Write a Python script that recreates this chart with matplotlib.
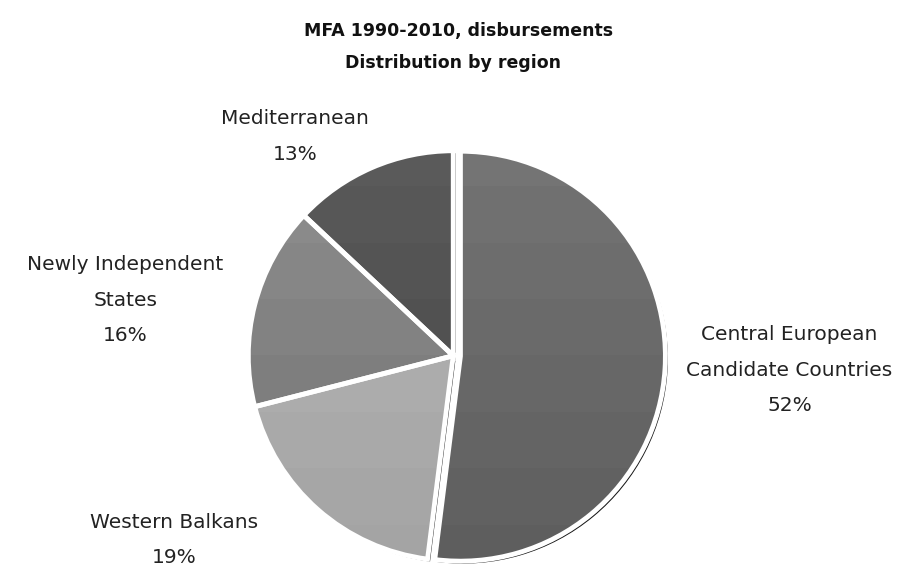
import numpy as np
import matplotlib.pyplot as plt
from matplotlib.patches import Wedge
from matplotlib.colors import to_rgb

regions = ['Central European\nCandidate Countries', 'Western Balkans',
           'Newly Independent\nStates', 'Mediterranean']
shares = [52, 19, 16, 13]
# top / bottom shade of each slice (banded vertical gradient)
shade_top = ['#747474', '#b8b8b8', '#8e8e8e', '#5a5a5a']
shade_bot = ['#5e5e5e', '#a4a4a4', '#727272', '#454545']
explode = [0.035, 0.0, 0.0, 0.0]
label_xy = [(1.64, -0.07), (-1.36, -0.9), (-1.6, 0.27), (-0.77, 1.07)]

fig = plt.figure(figsize=(9.12, 5.71), dpi=100)
ax = fig.add_axes([0.261, 0.0, 0.472, 0.754])
lim = 1.05

total = float(sum(shares))
start = 90.0
for i, (name, v) in enumerate(zip(regions, shares)):
    sweep = 360.0 * v / total
    t1, t2 = start - sweep, start
    mid = np.deg2rad((t1 + t2) / 2)
    cx, cy = explode[i] * np.cos(mid), explode[i] * np.sin(mid)

    # drop shadow
    ax.add_patch(Wedge((cx + 0.012, cy - 0.012), 1.0, t1, t2,
                       facecolor='#151515', edgecolor='none', zorder=1))
    ax.add_patch(Wedge((cx, cy), 1.0, t1, t2, facecolor='none',
                       edgecolor='white', linewidth=3.5, zorder=3))

    # banded fill clipped to the wedge
    c0 = np.array(to_rgb(shade_top[i]))
    c1 = np.array(to_rgb(shade_bot[i]))
    nb = 8
    t = np.floor(np.linspace(0, 1, 200, endpoint=False) * nb) / (nb - 1)
    img = c0[None, :] * (1 - t[:, None]) + c1[None, :] * t[:, None]
    img = np.repeat(img[:, None, :], 2, axis=1)
    im = ax.imshow(img, extent=(-1.1, 1.1, -1.1, 1.1), origin='upper',
                   aspect='auto', zorder=2, interpolation='nearest')
    im.set_clip_path(Wedge((cx, cy), 1.0, t1, t2, transform=ax.transData))

    lx, ly = label_xy[i]
    ax.text(lx, ly, '%s\n%d%%' % (name, v), ha='center', va='center',
            fontsize=14.5, color='#222222', linespacing=2.1,
            clip_on=False)
    start = t1

ax.set_xlim(-lim, lim)
ax.set_ylim(-lim, lim)
ax.set_aspect('equal')
ax.axis('off')

fig.text(0.503, 0.945, 'MFA 1990-2010, disbursements', ha='center',
         va='center', fontsize=12.5, fontweight='bold', color='#111111')
fig.text(0.497, 0.89, 'Distribution by region', ha='center',
         va='center', fontsize=12.5, fontweight='bold', color='#111111')

fig.savefig('out.png', dpi=100, facecolor='white')
